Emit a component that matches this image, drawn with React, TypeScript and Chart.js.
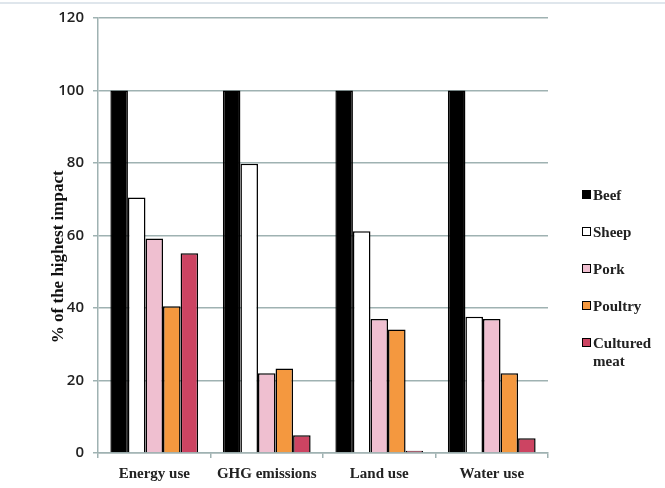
import React, { useEffect, useRef } from 'react';
import { Chart, registerables } from 'chart.js';

Chart.register(...registerables);

const categories = ['Energy use', 'GHG emissions', 'Land use', 'Water use'];
const seriesNames = ['Beef', 'Sheep', 'Pork', 'Poultry', 'Cultured meat'];
const seriesColors = ['#000000', '#ffffff', '#efbfd0', '#f4983f', '#cc4462'];

const beef = [100, 100, 100, 100];
const sheep = [70.5, 79.8, 61.2, 37.6];
const pork = [59.2, 22, 37, 37];
const poultry = [40.5, 23.3, 34.1, 22];
const cultured = [55.1, 4.9, 0.6, 4.1];

const yTicks = [0, 20, 40, 60, 80, 100, 120];

const GRID = '#9fb2b2';
const SERIF = '"Liberation Serif", "Times New Roman", serif';

const App: React.FC = () => {
  const canvasRef = useRef<HTMLCanvasElement>(null);
  const chartRef = useRef<Chart | null>(null);

  useEffect(() => {
    if (!canvasRef.current) return;
    if (chartRef.current) chartRef.current.destroy();

    const values = [beef, sheep, pork, poultry, cultured];

    chartRef.current = new Chart(canvasRef.current, {
      type: 'bar',
      data: {
        labels: categories,
        datasets: seriesNames.map((name, i) => ({
          label: name,
          data: values[i],
          backgroundColor: seriesColors[i],
          borderColor: '#000000',
          borderWidth: 1.5,
          borderSkipped: 'bottom',
          categoryPercentage: 0.78,
          barPercentage: 1,
        })),
      },
      options: {
        responsive: true,
        maintainAspectRatio: false,
        animation: false,
        layout: { padding: { top: 14, right: 117, left: 0, bottom: 0 } },
        plugins: {
          legend: { display: false },
          tooltip: { enabled: false },
        },
        scales: {
          x: {
            offset: true,
            grid: {
              drawOnChartArea: false,
              drawTicks: true,
              tickLength: 5,
              color: GRID,
              lineWidth: 1.5,
            },
            border: { color: GRID, width: 1.5 },
            ticks: {
              padding: 7,
              color: '#222',
              font: { family: SERIF, size: 15, weight: 'bold' },
              maxRotation: 0,
            },
            afterFit: (scale: any) => {
              scale.height = 35;
            },
          },
          y: {
            min: 0,
            max: 120,
            afterBuildTicks: (scale: any) => {
              scale.ticks = yTicks.map(v => ({ value: v }));
            },
            grid: {
              color: GRID,
              lineWidth: 1.5,
              tickLength: 5,
            },
            border: { color: GRID, width: 1.5 },
            ticks: {
              padding: 9,
              color: '#222',
              font: { family: '"Open Sans", sans-serif', size: 15, weight: 600 },
            },
            title: {
              display: true,
              // trailing spaces nudge the rotated title down, like the original
              text: '% of the highest impact' + '\u00a0'.repeat(10),
              color: '#111',
              font: { family: SERIF, size: 17, weight: 'bold' },
              padding: { top: 48, bottom: 0 },
            },
            afterFit: (scale: any) => {
              scale.width = 98;
            },
          },
        },
      },
    });

    return () => {
      if (chartRef.current) {
        chartRef.current.destroy();
        chartRef.current = null;
      }
    };
  }, []);

  const legendRows = [195, 232, 269, 306, 343];

  return (
    <div
      style={{
        position: 'absolute',
        left: 0,
        top: 0,
        width: 665,
        height: 488,
        background: '#ffffff',
        overflow: 'hidden',
      }}
    >
      <div
        style={{
          position: 'absolute',
          left: 0,
          top: 2,
          width: 665,
          height: 2,
          background: '#dfe6ec',
        }}
      />
      <div style={{ position: 'absolute', left: 0, top: 0, width: 665, height: 488 }}>
        <canvas ref={canvasRef} />
      </div>
      {seriesNames.map((name, i) => (
        <div
          key={name}
          style={{
            position: 'absolute',
            left: 582,
            top: legendRows[i] - 9,
            display: 'flex',
            alignItems: 'flex-start',
            fontFamily: SERIF,
            fontWeight: 'bold',
            fontSize: 15,
            lineHeight: '18px',
            color: '#222',
          }}
        >
          <span
            style={{
              display: 'inline-block',
              width: 7,
              height: 7,
              marginTop: 4,
              marginRight: 2,
              background: seriesColors[i],
              border: '1.5px solid #000',
            }}
          />
          <span style={{ width: 70 }}>{name}</span>
        </div>
      ))}
    </div>
  );
};

export default App;
